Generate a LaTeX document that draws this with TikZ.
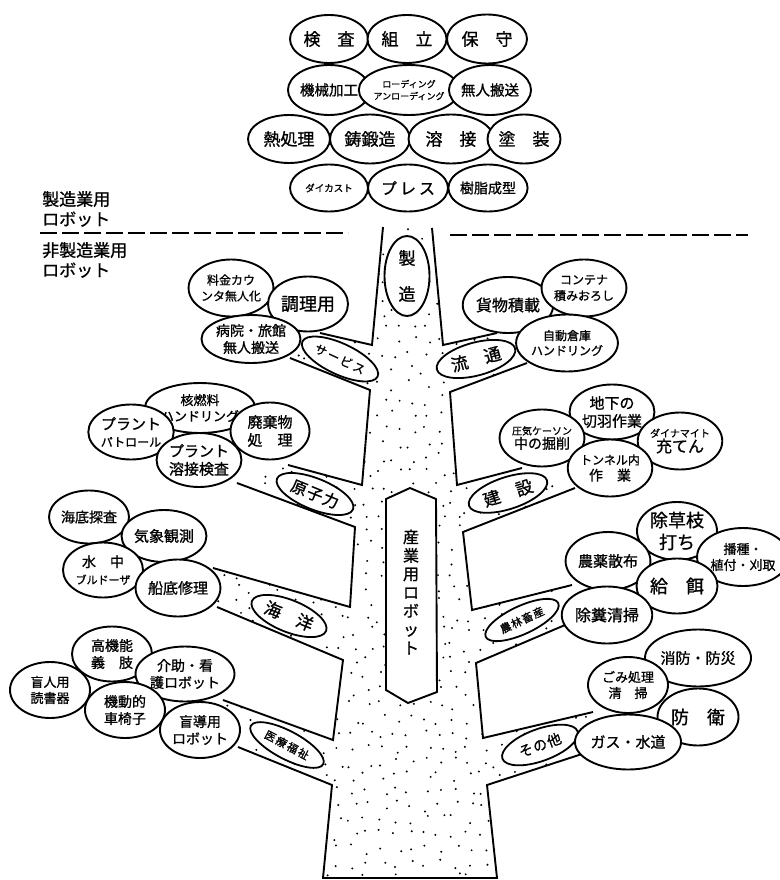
\documentclass[tikz,border=0pt]{standalone}
\usepackage{fontspec}
\setmainfont{Noto Sans CJK JP}[FakeBold=1]
\usetikzlibrary{shapes.geometric}
\newcommand\jfs[2]{\fontsize{#1pt}{#2pt}\selectfont}
\tikzset{
  leaf/.style={ellipse, draw, line width=1.9pt, fill=white, inner sep=0pt, align=center},
  twig/.style={ellipse, draw, line width=1.8pt, fill=white, inner sep=0pt, align=center},
  trunkline/.style={line width=1.9pt, line join=miter},
  sep/.style={line width=1.3pt, dash pattern=on 17pt off 5pt},
  caption/.style={anchor=west, inner sep=0pt, align=left}
}
\begin{document}
\begin{tikzpicture}[x=1pt, y=-1pt]
\useasboundingbox (0,0) rectangle (779,880);

% stippled trunk and branches
\begin{scope}
  \clip (383,227) -- (372,345) -- (320,333) -- (290,358) -- (370,390) -- (362,485)
    -- (288,465) -- (237,483) -- (355,527) -- (350,607) -- (213,568) -- (217,607)
    -- (343,660) -- (333,740) -- (223,700) -- (238,747) -- (332,785) -- (323,878)
    -- (497,878) -- (487,785) -- (585,753) -- (593,712) -- (483,738) -- (476,663)
    -- (565,625) -- (572,585) -- (472,610) -- (463,532) -- (575,488) -- (522,468)
    -- (457,485) -- (450,392) -- (527,363) -- (497,333) -- (443,345) -- (432,228) -- cycle;
  \pgfmathsetseed{4217}
  \foreach \gx in {0,...,27} {
    \foreach \gy in {0,...,45} {
      \pgfmathsetmacro\px{208+\gx*14.5+11*rnd-5.5}
      \pgfmathsetmacro\py{226+\gy*14.5+11*rnd-5.5}
      \fill (\px,\py) circle (1.1pt);
    }
  }
\end{scope}

% trunk outline
\draw[trunkline] (383,227) -- (372,345) -- (320,333);
\draw[trunkline] (290,358) -- (370,390) -- (362,485) -- (288,465);
\draw[trunkline] (237,483) -- (355,527) -- (350,607) -- (213,568);
\draw[trunkline] (217,607) -- (343,660) -- (333,740) -- (223,700);
\draw[trunkline] (238,747) -- (332,785) -- (323,878) -- (497,878) -- (487,785) -- (585,753);
\draw[trunkline] (593,712) -- (483,738) -- (476,663) -- (565,625);
\draw[trunkline] (572,585) -- (472,610) -- (463,532) -- (575,488);
\draw[trunkline] (522,468) -- (457,485) -- (450,392) -- (527,363);
\draw[trunkline] (497,333) -- (443,345) -- (432,228);

% separator between the two groups
\draw[sep] (40,233) -- (348,233);
\draw[sep] (450,235) -- (748,235);
\node[caption, font=\jfs{17}{20}] (mfg) at (42,209) {製造業用\\ロボット};
\node[caption, font=\jfs{17}{20}] (nonmfg) at (42,260) {非製造業用\\ロボット};

% manufacturing crown
\node[leaf, minimum width=78pt, minimum height=48pt, font=\jfs{17}{20}] (kensa) at (329,39) {検　査};
\node[leaf, minimum width=79pt, minimum height=48pt, font=\jfs{17}{20}] (kumitate) at (407,39) {組　立};
\node[leaf, minimum width=80pt, minimum height=49pt, font=\jfs{17}{20}] (hoshu) at (487,39) {保　守};
\node[leaf, minimum width=78pt, minimum height=50pt, font=\jfs{14.5}{17}] (kikai) at (329,90) {機械加工};
\node[leaf, minimum width=81pt, minimum height=50pt, font=\jfs{9}{12}] (loading) at (409,90) {ローディング\\アンローディング};
\node[leaf, minimum width=80pt, minimum height=50pt, font=\jfs{14.5}{17}] (hansou) at (490,90) {無人搬送};
\node[leaf, minimum width=82pt, minimum height=48pt, font=\jfs{17}{20}] (netsu) at (289,139) {熱処理};
\node[leaf, minimum width=80pt, minimum height=49pt, font=\jfs{17}{20}] (chutan) at (370,139) {鋳鍛造};
\node[leaf, minimum width=85pt, minimum height=49pt, font=\jfs{17}{20}] (yousetsu) at (451,139) {溶　接};
\node[leaf, minimum width=73pt, minimum height=49pt, font=\jfs{17}{20}] (tosou) at (524,139) {塗　装};
\node[leaf, minimum width=78pt, minimum height=47pt, font=\jfs{9.5}{12}] (diecast) at (329,188) {ダイカスト};
\node[leaf, minimum width=80pt, minimum height=47pt, font=\jfs{16}{18}] (press) at (408,188) {プ\hspace{3pt}レ\hspace{3pt}ス};
\node[leaf, minimum width=79pt, minimum height=47pt, font=\jfs{14}{17}] (jushi) at (488,188) {樹脂成型};

% central labels on the trunk
\node[leaf, minimum width=45pt, minimum height=80pt, font=\jfs{17}{36}] (seizou) at (407,276) {製\\造};
\draw[line width=1.9pt, fill=white] (410,488) -- (436,499) -- (437,692) -- (408,703) -- (386,690) -- (386,499) -- cycle;
\node[align=center, inner sep=0pt, font=\jfs{16}{18.5}] (sangyou) at (411,592) {産\\業\\用\\ロ\\ボ\\ッ\\ト};

% branch labels
\node[twig, rotate=-25, minimum width=83pt, minimum height=31pt, font=\jfs{12}{14}] (service) at (340,359) {サ\hspace{2pt}ー\hspace{2pt}ビ\hspace{2pt}ス};
\node[twig, rotate=15, minimum width=81pt, minimum height=33pt, font=\jfs{17}{20}] (ryutsu) at (476,359) {流　通};
\node[twig, rotate=-22, minimum width=82pt, minimum height=31pt, font=\jfs{16}{18}] (genshi) at (315,494) {原\hspace{1pt}子\hspace{1pt}力};
\node[twig, rotate=18, minimum width=82pt, minimum height=32pt, font=\jfs{17}{20}] (kensetsu) at (508,493) {建　設};
\node[twig, rotate=-22, minimum width=80pt, minimum height=32pt, font=\jfs{17}{20}] (kaiyou) at (289,616) {海　洋};
\node[twig, rotate=25, minimum width=80pt, minimum height=28pt, font=\jfs{11}{13}] (nourin) at (522,620) {農\hspace{1pt}林\hspace{1pt}畜\hspace{1pt}産};
\node[twig, rotate=-28, minimum width=82pt, minimum height=28pt, font=\jfs{11}{13}] (iryou) at (287,745) {医\hspace{1.5pt}療\hspace{1.5pt}福\hspace{1.5pt}祉};
\node[twig, rotate=20, minimum width=80pt, minimum height=32pt, font=\jfs{14}{16}] (sonota) at (540,745) {そ\hspace{1pt}の\hspace{1pt}他};

% service
\node[leaf, minimum width=79pt, minimum height=57pt, font=\jfs{12}{16}] (ryoukin) at (231,288) {料金カウ\\ンタ無人化};
\node[leaf, minimum width=80pt, minimum height=55pt, font=\jfs{18}{20}] (chouri) at (308,304) {調理用};
\node[leaf, minimum width=78pt, minimum height=48pt, font=\jfs{14}{17}] (byouin) at (251,339) {病院・旅館\\無人搬送};
% distribution
\node[leaf, minimum width=80pt, minimum height=56pt, font=\jfs{16}{18}] (kamotsu) at (508,305) {貨物積載};
\node[leaf, minimum width=81pt, minimum height=57pt, font=\jfs{12}{16}] (container) at (584,288) {コンテナ\\積みおろし};
\node[leaf, minimum width=80pt, minimum height=57pt, font=\jfs{12}{15}] (soko) at (567,343) {自動倉庫\\ハンドリング};
% nuclear
\node[leaf, minimum width=80pt, minimum height=50pt, font=\jfs{13}{16}] (kaku) at (200,408) {核燃料\\ハンドリング};
\node[leaf, minimum width=78pt, minimum height=55pt, font=\jfs{15}{17}] (patrol) at (131,432) {プラント\\{\jfs{12}{15}パトロール}};
\node[leaf, minimum width=79pt, minimum height=57pt, font=\jfs{15}{18}] (haiki) at (270,431) {廃棄物\\処　理};
\node[leaf, minimum width=78pt, minimum height=54pt, font=\jfs{15}{18}] (youkensa) at (199,460) {プラント\\溶接検査};
% construction
\node[leaf, minimum width=80pt, minimum height=55pt, font=\jfs{15}{18}] (chika) at (612,412) {地下の\\切羽作業};
\node[leaf, minimum width=80pt, minimum height=57pt, font=\jfs{10}{14}] (caisson) at (542,438) {圧気ケーソン\\{\jfs{14}{16}中の掘削}};
\node[leaf, minimum width=79pt, minimum height=57pt, font=\jfs{10}{14}] (dyna) at (680,441) {ダイナマイト\\{\jfs{16}{18}充てん}};
\node[leaf, minimum width=81pt, minimum height=57pt, font=\jfs{12}{16}] (tunnel) at (610,468) {トンネル内\\{\jfs{14}{17}作　業}};
% ocean
\node[leaf, minimum width=80pt, minimum height=53pt, font=\jfs{14}{17}] (kaitei) at (89,517) {海底探査};
\node[leaf, minimum width=81pt, minimum height=52pt, font=\jfs{15}{18}] (kishou) at (164,536) {気象観測};
\node[leaf, minimum width=80pt, minimum height=55pt, font=\jfs{14}{17}] (suichu) at (103,570) {水　中\\{\jfs{11}{14}ブルドーザ}};
\node[leaf, minimum width=80pt, minimum height=57pt, font=\jfs{15}{18}] (sentei) at (178,588) {船底修理};
% agriculture
\node[leaf, minimum width=80pt, minimum height=58pt, font=\jfs{18}{22}] (josou) at (677,531) {除草枝\\打ち};
\node[leaf, minimum width=80pt, minimum height=58pt, font=\jfs{15}{18}] (nouyaku) at (608,561) {農薬散布};
\node[leaf, minimum width=75pt, minimum height=58pt, font=\jfs{13}{16}] (hashu) at (743,557) {播種・\\植付・刈取};
\node[leaf, minimum width=81pt, minimum height=55pt, font=\jfs{18}{20}] (kyuji) at (677,586) {給　餌};
\node[leaf, minimum width=80pt, minimum height=57pt, font=\jfs{16}{18}] (jofun) at (607,615) {除糞清掃};
% medical and welfare
\node[leaf, minimum width=80pt, minimum height=55pt, font=\jfs{14}{17}] (koukinou) at (112,654) {高機能\\義　肢};
\node[leaf, minimum width=79pt, minimum height=55pt, font=\jfs{14}{17}] (kaijo) at (185,674) {介助・看\\護ロボット};
\node[leaf, minimum width=80pt, minimum height=56pt, font=\jfs{13}{16}] (mojin) at (50,690) {盲人用\\読書器};
\node[leaf, minimum width=80pt, minimum height=56pt, font=\jfs{14}{17}] (kidou) at (125,710) {機動的\\車椅子};
\node[leaf, minimum width=80pt, minimum height=56pt, font=\jfs{14}{17}] (moudou) at (200,730) {盲導用\\ロボット};
% others
\node[leaf, minimum width=80pt, minimum height=57pt, font=\jfs{15}{18}] (shoubou) at (698,658) {消防・防災};
\node[leaf, minimum width=80pt, minimum height=56pt, font=\jfs{13}{16}] (gomi) at (628,685) {ごみ処理\\清　掃};
\node[leaf, minimum width=81pt, minimum height=57pt, font=\jfs{18}{20}] (bouei) at (698,717) {防　衛};
\node[leaf, minimum width=80pt, minimum height=55pt, font=\jfs{15}{18}] (gas) at (628,742) {ガス・水道};
\end{tikzpicture}
\end{document}
